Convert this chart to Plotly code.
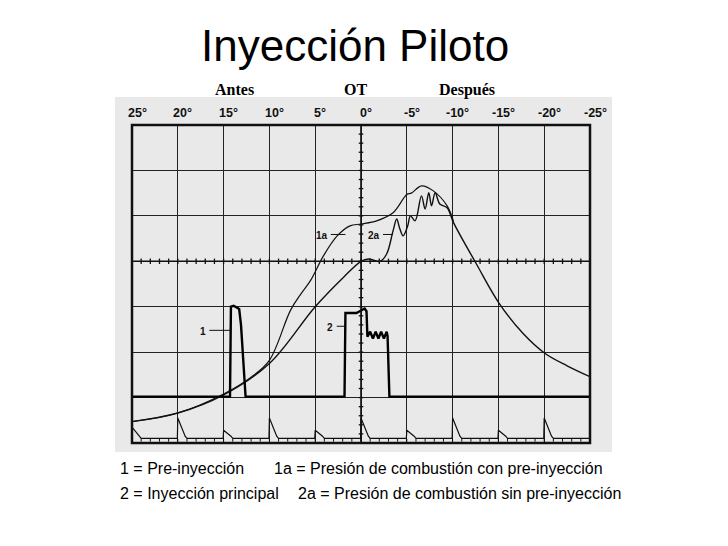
import plotly.graph_objects as go

W, H = 728, 546
OFF = 8
L, R, T, B = 132 - OFF, 590 - OFF, 125 - OFF, 443 - OFF

# degrees (x, reversed) and divisions (y)
deg_2a = [25, 20, 15, 10, 5, 1.9, 0, -0.8, -2.1, -2.8, -3.5, -3.9, -4.2, -4.6, -5.1, -5.4, -5.9, -6.6, -7.0, -7.4, -7.7, -8.1, -8.6, -9.4, -10.1, -12.6, -15.1, -17.7, -20.1, -22.5, -25]
val_2a = [0.47, 0.66, 1.06, 1.75, 3.0, 3.65, 4.0, 4.05, 4.0, 4.16, 4.67, 4.93, 4.74, 4.56, 4.78, 5.0, 4.89, 5.44, 5.15, 5.51, 5.22, 5.51, 5.26, 5.18, 4.85, 3.94, 3.07, 2.41, 1.97, 1.7, 1.46]
deg_1a = [25, 20, 15, 12, 10, 7.7, 6.5, 5.5, 4.1, 2.6, 1.2, 0, -1.7, -3.5, -5, -5.5, -6.6, -7.9, -9.4, -10.1]
val_1a = [0.47, 0.66, 1.08, 1.45, 1.82, 2.92, 3.3, 3.58, 4.12, 4.56, 4.78, 4.82, 4.89, 5.07, 5.47, 5.5, 5.66, 5.55, 5.22, 4.88]
deg_inj = [25, 14.3, 14.2, 13.9, 13.3, 13.1, 12.6, 1.8, 1.7, 0.5, -0.4, -0.6, -0.7, -1.0, -1.3, -1.6, -1.9, -2.2, -2.5, -2.8, -2.9, -3.1, -25]
val_inj = [1.02, 1.02, 3.0, 3.02, 2.95, 2.6, 1.02, 1.02, 2.86, 2.86, 2.96, 2.9, 2.34, 2.45, 2.3, 2.45, 2.3, 2.45, 2.3, 2.45, 2.36, 1.02, 1.02]
spike_deg = [25, 20, 15, 10, 5, 0, -5, -10, -15, -20, -25]
spike_val = [0.35, 0.55, 0.28, 0.55, 0.28, 0.55, 0.28, 0.55, 0.28, 0.55, 0.2]
base_val = 0.1
top_labels = ["25°", "20°", "15°", "10°", "5°", "0°", "-5°", "-10°", "-15°", "-20°", "-25°"]

def px(x): return (x - OFF - L) / (R - L)
def py(y): return (B - (y - OFF)) / (B - T)

fig = go.Figure()
fig.add_trace(go.Scatter(x=deg_2a, y=val_2a, mode="lines", line=dict(color="#111", width=1.4), line_shape="spline"))
fig.add_trace(go.Scatter(x=deg_1a, y=val_1a, mode="lines", line=dict(color="#111", width=1.2), line_shape="spline"))
fig.add_trace(go.Scatter(x=deg_inj, y=val_inj, mode="lines", line=dict(color="#000", width=2.4)))
bx, by = [], []
for d, v in zip(spike_deg, spike_val):
    bx += [d + 0.05, d, d - 0.8, d - 1.0]
    by += [base_val, v, base_val + 0.05, base_val]
fig.add_trace(go.Scatter(x=bx, y=by, mode="lines", line=dict(color="#111", width=1.2)))

shapes = [dict(type="rect", xref="paper", yref="paper", x0=px(115), x1=px(612), y0=py(452), y1=py(97),
               fillcolor="#e9e9e9", line=dict(width=0), layer="below"),
          dict(type="rect", xref="paper", yref="paper", x0=0, x1=1, y0=0, y1=1, line=dict(color="#111", width=2.5)),
          dict(type="line", x0=0, x1=0, y0=0, y1=7, line=dict(color="#111", width=1.6)),
          dict(type="line", x0=25, x1=-25, y0=4, y1=4, line=dict(color="#111", width=1.6))]
for i in range(-25, 26):
    shapes.append(dict(type="line", x0=i, x1=i, y0=3.94, y1=4.06, line=dict(color="#111", width=1.3)))
for j in range(0, 36):
    y = j * 0.2
    shapes.append(dict(type="line", x0=0.25, x1=-0.25, y0=y, y1=y, line=dict(color="#111", width=1.3)))
for d in range(-25, 26):
    shapes.append(dict(type="line", x0=d, x1=d, y0=0.03, y1=0.09, line=dict(color="#111", width=1)))

ann = []
for d, t in zip(spike_deg, top_labels):
    ann.append(dict(x=(25 - d) / 50 + 5 / (R - L), xref="paper", xanchor="center", y=py(113), yref="paper", yanchor="middle",
                    text=f"<b>{t}</b>", showarrow=False, font=dict(family="Liberation Sans", size=12.5, color="#111")))
for txt, d, v, x1 in [("1", 17.3, 2.45, 14.2), ("2", 3.4, 2.54, 1.7), ("1a", 4.3, 4.56, 1.7), ("2a", -1.4, 4.56, -3.5)]:
    ann.append(dict(x=d, y=v, text=f"<b>{txt}</b>", showarrow=False, font=dict(family="Liberation Sans", size=10, color="#111")))
    off = 0.75 if len(txt) == 1 else 1.0
    shapes.append(dict(type="line", x0=d - off, x1=x1, y0=v + 0.03, y1=v + 0.03, line=dict(color="#111", width=1)))

ann.append(dict(x=px(355), y=py(45), xref="paper", yref="paper", xanchor="center", yanchor="middle", text="Inyección Piloto", showarrow=False,
                font=dict(family="Liberation Sans", size=44, color="#000")))
for t, x in [("Antes", 234), ("OT", 355), ("Después", 467)]:
    ann.append(dict(x=px(x), y=py(90), xref="paper", yref="paper", xanchor="center", yanchor="middle", text=f"<b>{t}</b>", showarrow=False,
                    font=dict(family="Liberation Serif", size=16, color="#000")))
for t, x, y in [("1 = Pre-inyección", 118, 468), ("1a = Presión de combustión con pre-inyección", 272, 468),
                ("2 = Inyección principal", 118, 493), ("2a = Presión de combustión sin pre-inyección", 296, 493)]:
    ann.append(dict(x=px(x), y=py(y), xref="paper", yref="paper", xanchor="left", yanchor="middle", text=t, showarrow=False,
                    font=dict(family="Liberation Sans", size=16, color="#000")))

fig.update_layout(width=W, height=H, margin=dict(l=L, r=W - R, t=T, b=H - B),
                  paper_bgcolor="white", plot_bgcolor="#e9e9e9", showlegend=False,
                  shapes=shapes, annotations=ann,
                  xaxis=dict(range=[25, -25], dtick=5, tick0=0, showgrid=True, gridcolor="#222", gridwidth=1.4,
                             showticklabels=False, zeroline=False, ticks=""),
                  yaxis=dict(range=[0, 7], dtick=1, showgrid=True, gridcolor="#222", gridwidth=1.4,
                             showticklabels=False, zeroline=False, ticks=""))
fig.write_html("out.html")
